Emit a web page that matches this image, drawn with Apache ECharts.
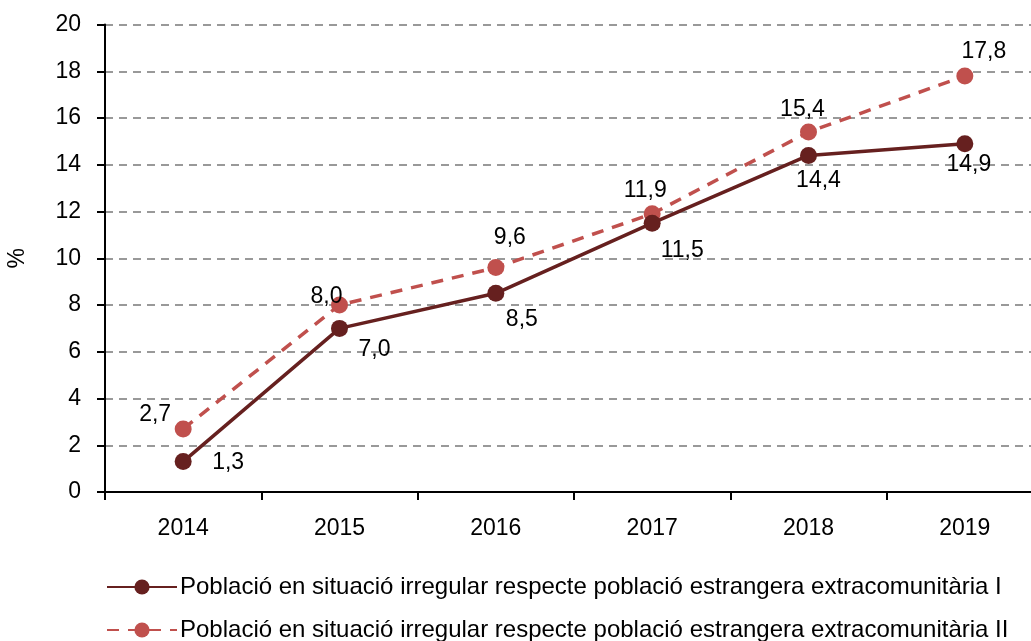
<!DOCTYPE html>
<html>
<head>
<meta charset="utf-8">
<script src="https://cdn.jsdelivr.net/npm/echarts@6/dist/echarts.min.js"></script>
<style>
body { margin: 0; padding: 0; background: #fff; }
#chart { width: 1031px; height: 641px; }
</style>
</head>
<body>
<div id="chart"></div>
<script>
const years = ['2014', '2015', '2016', '2017', '2018', '2019']
const serieI = [1.3, 7.0, 8.5, 11.5, 14.4, 14.9]
const serieII = [2.7, 8.0, 9.6, 11.9, 15.4, 17.8]
const nameI = 'Població en situació irregular respecte població estrangera extracomunitària I'
const nameII = 'Població en situació irregular respecte població estrangera extracomunitària II'

// label offsets (layout only)
const offI = [[45, 1], [35, 21], [26, 26], [30, 27], [10, 25], [4, 21]]
const offII = [[-28, -14], [-13, -8], [14, -30], [-7, -23], [-6, -22], [19, -24]]

const fmt = v => v.toFixed(1).replace('.', ',')
const font = 'Liberation Sans, Arial, sans-serif'

const legendBase = {
  left: 101,
  itemWidth: 70,
  itemHeight: 19,
  itemGap: 6,
  textStyle: { fontSize: 24, color: '#000', fontFamily: font, padding: [0, 0, 0, -2] }
}

const charts = echarts.init(document.getElementById('chart'))
charts.setOption({
  animation: false,
  textStyle: { fontFamily: font },
  grid: { left: 105, top: 24.5, bottom: 149, right: -12, outerBoundsMode: 'none' },
  legend: [
    Object.assign({ top: 570, data: [nameI] }, legendBase),
    Object.assign({ top: 613, data: [nameII] }, legendBase)
  ],
  xAxis: {
    type: 'category',
    data: years,
    boundaryGap: true,
    axisLine: { lineStyle: { color: '#000', width: 2 } },
    axisTick: { show: true, length: 8, lineStyle: { color: '#000', width: 2 } },
    axisLabel: { fontSize: 23, color: '#000', margin: 25 }
  },
  yAxis: {
    type: 'value',
    min: 0,
    max: 20,
    interval: 2,
    name: '%',
    nameLocation: 'middle',
    nameRotate: 90,
    nameGap: 76,
    nameTextStyle: { fontSize: 23, color: '#000' },
    axisLine: { show: true, lineStyle: { color: '#000', width: 2 } },
    axisTick: { show: true, length: 8, lineStyle: { color: '#000', width: 2 } },
    axisLabel: { fontSize: 23, color: '#000', margin: 24 },
    splitLine: { lineStyle: { color: '#999', width: 2, type: [8, 6] } }
  },
  series: [
    {
      name: nameI,
      type: 'line',
      data: serieI.map((v, i) => ({
        value: v,
        label: { offset: offI[i] }
      })),
      symbol: 'circle',
      symbolSize: 17,
      z: 3,
      lineStyle: { color: '#66201F', width: 3.5 },
      itemStyle: { color: '#66201F' },
      label: {
        show: true,
        position: 'inside',
        fontSize: 23,
        color: '#000',
        formatter: p => fmt(p.value)
      }
    },
    {
      name: nameII,
      type: 'line',
      data: serieII.map((v, i) => ({
        value: v,
        label: { offset: offII[i] }
      })),
      symbol: 'circle',
      symbolSize: 17,
      z: 2,
      lineStyle: { color: '#C0504D', width: 3.5, type: [12, 9] },
      itemStyle: { color: '#C0504D' },
      label: {
        show: true,
        position: 'inside',
        fontSize: 23,
        color: '#000',
        formatter: p => fmt(p.value)
      }
    }
  ]
})
</script>
</body>
</html>
